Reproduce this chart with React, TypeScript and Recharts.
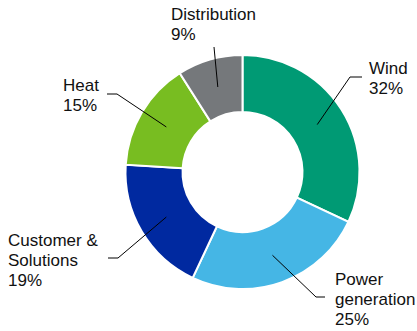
import { Cell, Pie, PieChart } from "recharts";

const segments = ["Wind", "Power\ngeneration", "Customer &\nSolutions", "Heat", "Distribution"];
const shares = [32, 25, 19, 15, 9];
const colors = ["#009a74", "#45b6e5", "#0029a0", "#78bd21", "#75787b"];

const data = segments.map((name, i) => ({ name, value: shares[i] }));

// leader-line bends and text anchors, in chart pixels
const labelLayout: Record<string, { bend: [number, number][]; x: number; y: number }> = {
  Wind: { bend: [[350, 77], [362, 77]], x: 369, y: 74 },
  "Power\ngeneration": { bend: [[316, 297], [325, 297]], x: 335, y: 285 },
  "Customer &\nSolutions": { bend: [[118, 258], [108, 258]], x: 8, y: 245.5 },
  Heat: { bend: [[117, 94], [107, 94]], x: 63, y: 90.5 },
  Distribution: { bend: [[214, 47]], x: 171, y: 19.5 },
};

const RAD = Math.PI / 180;

function renderLabel(props: any) {
  const { cx, cy, midAngle, innerRadius, outerRadius, name, value } = props;
  const lay = labelLayout[name];
  if (!lay) return null;
  const r = (innerRadius + outerRadius) / 2;
  const sx = cx + r * Math.cos(-midAngle * RAD);
  const sy = cy + r * Math.sin(-midAngle * RAD);
  const pts = [[sx, sy], ...lay.bend].map((p) => p.join(",")).join(" ");
  const lines = [...String(name).split("\n"), `${value}%`];
  return (
    <g>
      <polyline points={pts} fill="none" stroke="#000" strokeWidth={1} />
      <text x={lay.x} y={lay.y} fill="#111" fontSize={17} fontFamily="'Liberation Sans', Arial, sans-serif">
        {lines.map((l, i) => (
          <tspan key={i} x={lay.x} y={lay.y + i * 20}>
            {l}
          </tspan>
        ))}
      </text>
    </g>
  );
}

export default function App() {
  return (
    <div style={{ position: "absolute", left: 0, top: 0, background: "#fff" }}>
      <PieChart width={417} height={331} margin={{ top: 0, right: 0, bottom: 0, left: 0 }}>
        <Pie
          data={data}
          dataKey="value"
          nameKey="name"
          cx={242.5}
          cy={172}
          innerRadius={60}
          outerRadius={117}
          startAngle={90}
          endAngle={-270}
          stroke="#fff"
          strokeWidth={2}
          label={renderLabel}
          labelLine={false}
          isAnimationActive={false}
        >
          {data.map((d, i) => (
            <Cell key={d.name} fill={colors[i]} />
          ))}
        </Pie>
      </PieChart>
    </div>
  );
}
